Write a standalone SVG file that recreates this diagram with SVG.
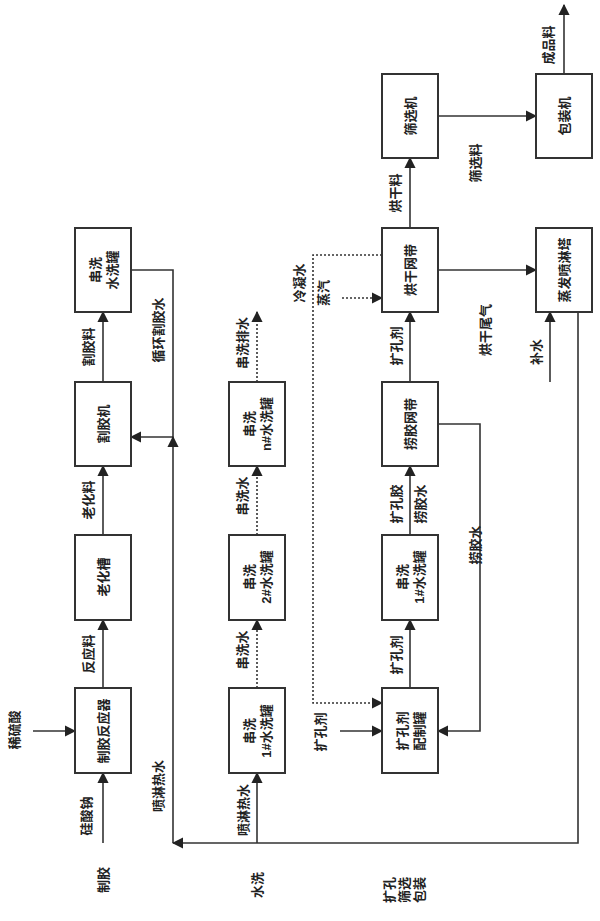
<svg xmlns="http://www.w3.org/2000/svg" width="600" height="921" viewBox="0 0 600 921">
<style>
rect{fill:#fff;stroke:#333;stroke-width:2}
text{font-family:"Liberation Sans","Noto Sans CJK SC",sans-serif;font-size:13px;font-weight:bold;fill:#222;text-anchor:middle;dominant-baseline:central}
.c line,.c polyline{stroke:#333;stroke-width:1.6;fill:none}
.d{stroke-dasharray:2 2}
</style>
<defs><marker id="a" viewBox="0 0 10 10" refX="9" refY="5" markerWidth="7" markerHeight="7" orient="auto"><path d="M0,0L10,5L0,10z" fill="#222"/></marker></defs>
<g class="c" id="connectors">
<line x1="103" y1="843" x2="103" y2="773" marker-end="url(#a)"/>
<line x1="33" y1="731" x2="75" y2="731" marker-end="url(#a)"/>
<line x1="103" y1="688" x2="103" y2="620" marker-end="url(#a)"/>
<line x1="103" y1="535" x2="103" y2="466" marker-end="url(#a)"/>
<line x1="103" y1="382" x2="103" y2="312" marker-end="url(#a)"/>
<polyline points="131,270 173,270 173,437 131,437" marker-end="url(#a)"/>
<line x1="173" y1="843" x2="173" y2="437" marker-end="url(#a)"/>
<polyline points="578,312 578,843 173,843" marker-end="url(#a)"/>
<line x1="257" y1="843" x2="257" y2="773" marker-end="url(#a)"/>
<line class="d" x1="257" y1="688" x2="257" y2="620" marker-end="url(#a)"/>
<line class="d" x1="257" y1="535" x2="257" y2="466" marker-end="url(#a)"/>
<line class="d" x1="257" y1="382" x2="257" y2="312" marker-end="url(#a)"/>
<line x1="410" y1="688" x2="410" y2="620" marker-end="url(#a)"/>
<line x1="410" y1="535" x2="410" y2="466" marker-end="url(#a)"/>
<line x1="410" y1="382" x2="410" y2="312" marker-end="url(#a)"/>
<line x1="410" y1="228" x2="410" y2="158" marker-end="url(#a)"/>
<line x1="438" y1="116" x2="536" y2="116" marker-end="url(#a)"/>
<line x1="564" y1="74" x2="564" y2="5" marker-end="url(#a)"/>
<line x1="438" y1="270" x2="536" y2="270" marker-end="url(#a)"/>
<line x1="550" y1="382" x2="550" y2="312" marker-end="url(#a)"/>
<polyline points="438,424 480,424 480,731 438,731" marker-end="url(#a)"/>
<line x1="340" y1="731" x2="382" y2="731" marker-end="url(#a)"/>
<polyline class="d" points="382,255 313,255 313,703 382,703" marker-end="url(#a)"/>
<line class="d" x1="342" y1="298" x2="382" y2="298" marker-end="url(#a)"/>
</g>
<g id="n1"><rect x="75" y="688" width="56" height="85"/><text transform="translate(103,731) rotate(-90)">制胶反应器</text></g>
<g id="n2"><rect x="75" y="535" width="56" height="85"/><text transform="translate(103,577) rotate(-90)">老化槽</text></g>
<g id="n3"><rect x="75" y="382" width="56" height="84"/><text transform="translate(103,424) rotate(-90)">割胶机</text></g>
<g id="n4"><rect x="75" y="228" width="56" height="84"/><text transform="translate(103,270) rotate(-90)"><tspan x="0" y="-8">串洗</tspan><tspan x="0" y="9">水洗罐</tspan></text></g>
<g id="n5"><rect x="229" y="688" width="56" height="85"/><text transform="translate(257,731) rotate(-90)"><tspan x="0" y="-8">串洗</tspan><tspan x="0" y="9">1#水洗罐</tspan></text></g>
<g id="n6"><rect x="229" y="535" width="56" height="85"/><text transform="translate(257,577) rotate(-90)"><tspan x="0" y="-8">串洗</tspan><tspan x="0" y="9">2#水洗罐</tspan></text></g>
<g id="n7"><rect x="229" y="382" width="56" height="84"/><text transform="translate(257,424) rotate(-90)"><tspan x="0" y="-8">串洗</tspan><tspan x="0" y="9">n#水洗罐</tspan></text></g>
<g id="n8"><rect x="382" y="688" width="56" height="85"/><text transform="translate(410,731) rotate(-90)"><tspan x="0" y="-8">扩孔剂</tspan><tspan x="0" y="9">配制罐</tspan></text></g>
<g id="n9"><rect x="382" y="535" width="56" height="85"/><text transform="translate(410,577) rotate(-90)"><tspan x="0" y="-8">串洗</tspan><tspan x="0" y="9">1#水洗罐</tspan></text></g>
<g id="n10"><rect x="382" y="382" width="56" height="84"/><text transform="translate(410,424) rotate(-90)">捞胶网带</text></g>
<g id="n11"><rect x="382" y="228" width="56" height="84"/><text transform="translate(410,270) rotate(-90)">烘干网带</text></g>
<g id="n12"><rect x="382" y="74" width="56" height="84"/><text transform="translate(410,116) rotate(-90)">筛选机</text></g>
<g id="n13"><rect x="536" y="228" width="56" height="84"/><text transform="translate(564,270) rotate(-90)">蒸发喷淋塔</text></g>
<g id="n14"><rect x="536" y="74" width="56" height="84"/><text transform="translate(564,116) rotate(-90)">包装机</text></g>
<g id="labels">
<text transform="translate(86,816) rotate(-90)">硅酸钠</text>
<text transform="translate(14,730) rotate(-90)">稀硫酸</text>
<text transform="translate(88,654) rotate(-90)">反应料</text>
<text transform="translate(88,500) rotate(-90)">老化料</text>
<text transform="translate(88,347) rotate(-90)">割胶料</text>
<text transform="translate(158,330) rotate(-90)">循环割胶水</text>
<text transform="translate(158,786) rotate(-90)">喷淋热水</text>
<text transform="translate(243,810) rotate(-90)">喷淋热水</text>
<text transform="translate(242,650) rotate(-90)">串洗水</text>
<text transform="translate(242,496) rotate(-90)">串洗水</text>
<text transform="translate(242,343) rotate(-90)">串洗排水</text>
<text transform="translate(396,655) rotate(-90)">扩孔剂</text>
<text transform="translate(396,504) rotate(-90)">扩孔胶</text>
<text transform="translate(420,504) rotate(-90)">捞胶水</text>
<text transform="translate(396,346) rotate(-90)">扩孔剂</text>
<text transform="translate(395,193) rotate(-90)">烘干料</text>
<text transform="translate(475,163) rotate(-90)">筛选料</text>
<text transform="translate(548,45) rotate(-90)">成品料</text>
<text transform="translate(485,330) rotate(-90)">烘干尾气</text>
<text transform="translate(536,352) rotate(-90)">补水</text>
<text transform="translate(475,545) rotate(-90)">捞胶水</text>
<text transform="translate(320,732) rotate(-90)">扩孔剂</text>
<text transform="translate(299,283) rotate(-90)">冷凝水</text>
<text transform="translate(323,293) rotate(-90)">蒸汽</text>
<text transform="translate(103,880) rotate(-90)">制胶</text>
<text transform="translate(257,885) rotate(-90)">水洗</text>
<text transform="translate(389,890) rotate(-90)">扩孔</text>
<text transform="translate(404,890) rotate(-90)">筛选</text>
<text transform="translate(419,890) rotate(-90)">包装</text>
</g>
</svg>
